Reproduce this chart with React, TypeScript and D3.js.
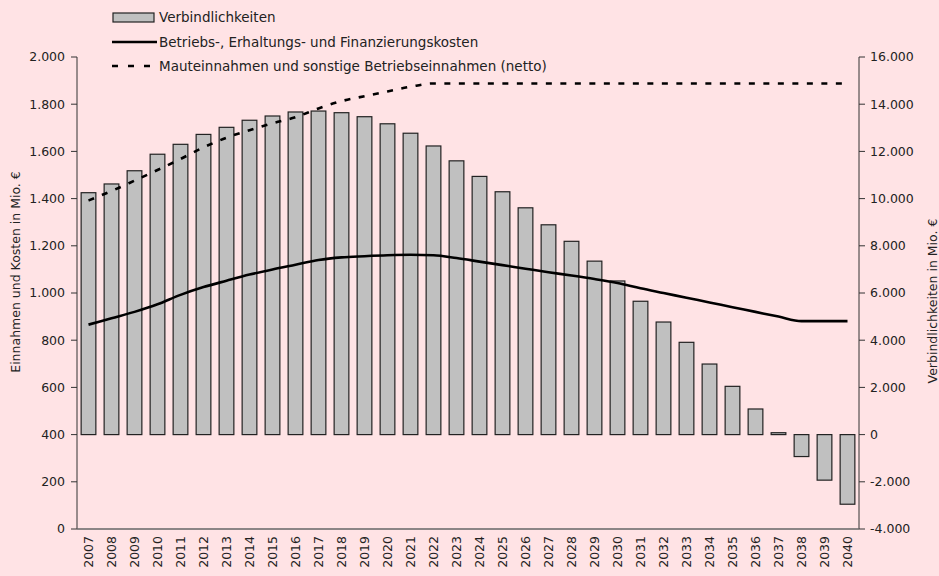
import React from 'react';
import * as d3 from 'd3';

// values
const years = d3.range(2007, 2041).map(String);
const liabilities = [
  10250, 10620, 11180, 11880, 12300, 12720, 13020, 13320, 13500, 13670,
  13710, 13640, 13470, 13170, 12770, 12230, 11600, 10940, 10290, 9610,
  8890, 8190, 7350, 6510, 5650, 4770, 3910, 2990, 2045, 1085,
  80, -930, -1930, -2950,
];
const costs = [
  866, 893, 920, 952, 992, 1025, 1052, 1078, 1100, 1120,
  1140, 1151, 1156, 1160, 1162, 1160, 1148, 1133, 1118, 1103,
  1088, 1074, 1059, 1042, 1020, 1000, 980, 960, 940, 920,
  900, 881, 881, 881,
];
const revenues = [
  1392, 1432, 1476, 1521, 1568, 1617, 1658, 1690, 1719, 1745,
  1782, 1813, 1834, 1854, 1874, 1888, 1888, 1888, 1888, 1888,
  1888, 1888, 1888, 1888, 1888, 1888, 1888, 1888, 1888, 1888,
  1888, 1888, 1888, 1888,
];
const leftTicks = d3.range(0, 2001, 200);
const rightTicks = d3.range(-4000, 16001, 2000);
const legendLabels = [
  'Verbindlichkeiten',
  'Betriebs-, Erhaltungs- und Finanzierungskosten',
  'Mauteinnahmen und sonstige Betriebseinnahmen (netto)',
];
const leftTitle = 'Einnahmen und Kosten in Mio. €';
const rightTitle = 'Verbindlichkeiten in Mio. €';

const W = 939, H = 576;
const m = { left: 77, right: 80, top: 57, bottom: 47 };
const font = '"DejaVu Sans", sans-serif';
const de = d3.formatLocale({ decimal: ',', thousands: '.', grouping: [3], currency: ['', ' €'], minus: '-' });
const fmt = de.format(',d');

export default function App() {
  const x = d3.scaleBand().domain(years).range([m.left, W - m.right]).paddingInner(0.36).paddingOuter(0.18);
  const yL = d3.scaleLinear().domain([0, 2000]).range([H - m.bottom, m.top]);
  const yR = d3.scaleLinear().domain([-4000, 16000]).range([H - m.bottom, m.top]);
  const cx = (y: string) => (x(y) as number) + x.bandwidth() / 2;

  const line = d3.line<number>()
    .x((_, i) => cx(years[i]))
    .y(d => yL(d))
    .curve(d3.curveMonotoneX);

  const x0 = m.left, x1 = W - m.right, yb = H - m.bottom;

  return (
    <svg width={W} height={H} style={{ position: 'absolute', left: 0, top: 0 }} fontFamily={font}>
      <rect width={W} height={H} fill="#ffe3e5" />

      {/* bars */}
      {liabilities.map((v, i) => (
        <rect key={years[i]}
          x={x(years[i])} width={x.bandwidth()}
          y={Math.min(yR(v), yR(0))} height={Math.max(1.5, Math.abs(yR(v) - yR(0)))}
          fill="#c0c0c0" stroke="#222" strokeWidth={1.2} />
      ))}

      {/* lines */}
      <path d={line(costs) || ''} fill="none" stroke="#000" strokeWidth={2.6} />
      <path d={line(revenues) || ''} fill="none" stroke="#000" strokeWidth={2.6} strokeDasharray="6,8.5" />

      {/* axes */}
      <line x1={x0} x2={x0} y1={m.top} y2={yb} stroke="#333" />
      <line x1={x1} x2={x1} y1={m.top} y2={yb} stroke="#333" />
      <line x1={x0} x2={x1} y1={yb} y2={yb} stroke="#666" strokeWidth={1.5} />
      {leftTicks.map(t => (
        <g key={'l' + t}>
          <line x1={x0 - 6} x2={x0} y1={yL(t)} y2={yL(t)} stroke="#333" />
          <text x={x0 - 12} y={yL(t)} dy="0.35em" textAnchor="end" fontSize={12.5} fill="#222">{fmt(t)}</text>
        </g>
      ))}
      {rightTicks.map(t => (
        <g key={'r' + t}>
          <line x1={x1} x2={x1 + 6} y1={yR(t)} y2={yR(t)} stroke="#333" />
          <text x={x1 + 11} y={yR(t)} dy="0.35em" textAnchor="start" fontSize={12.5} fill="#222">{fmt(t)}</text>
        </g>
      ))}
      {years.map(y => (
        <text key={'x' + y} transform={`translate(${cx(y)},${yb + 7}) rotate(-90)`}
          dy="0.35em" textAnchor="end" fontSize={12.5} fill="#222">{y}</text>
      ))}
      <text transform="translate(20,272) rotate(-90)" textAnchor="middle" fontSize={12.5} fill="#222">{leftTitle}</text>
      <text transform="translate(937,301) rotate(-90)" textAnchor="middle" fontSize={12.5} fill="#222">{rightTitle}</text>

      {/* legend */}
      <rect x={113} y={13} width={41} height={9} fill="#c0c0c0" stroke="#222" strokeWidth={1.2} />
      <text x={159} y={17.5} dy="0.35em" fontSize={13.5} fill="#222">{legendLabels[0]}</text>
      <line x1={112} x2={157} y1={42} y2={42} stroke="#000" strokeWidth={2.6} />
      <text x={159} y={42} dy="0.35em" fontSize={13.5} fill="#222">{legendLabels[1]}</text>
      <line x1={112} x2={157} y1={66} y2={66} stroke="#000" strokeWidth={2.6} strokeDasharray="6,10" />
      <text x={159} y={66} dy="0.35em" fontSize={13.5} fill="#222">{legendLabels[2]}</text>
    </svg>
  );
}
